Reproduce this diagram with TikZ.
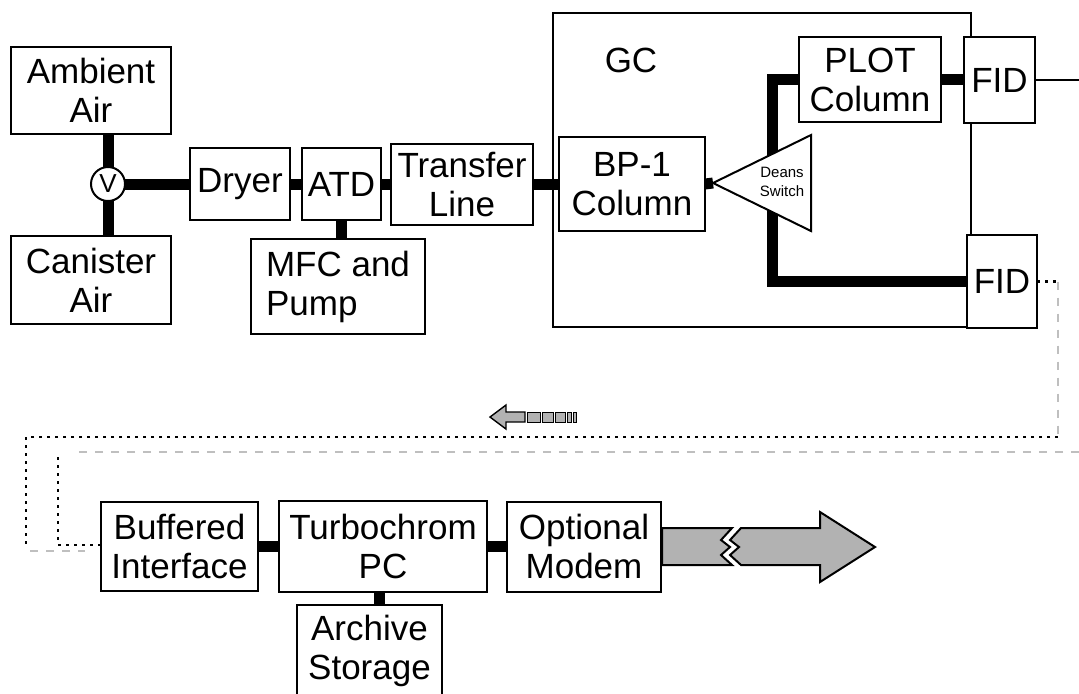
\documentclass[tikz,border=0pt]{standalone}
\usepackage{fontspec}
\setmainfont{Liberation Sans}
\usetikzlibrary{positioning}

\newcommand\boxfont{\fontsize{17.5}{19.5}\selectfont}
\newcommand\switchfont{\fontsize{7.5}{9.5}\selectfont}

\begin{document}
\begin{tikzpicture}[x=0.5pt, y=-0.5pt, font=\boxfont]
        \tikzstyle{unit_box} = [rectangle, draw, line width=1pt, fill=white, inner sep=0pt, outer sep=0pt, align=center]
        \tikzstyle{pipe_line} = [line width=5.5pt]
        \tikzstyle{thin_line} = [line width=1pt]
        \tikzstyle{cable_dot} = [black, line width=1.2pt, dash pattern=on 1.5pt off 2.5pt]
        \tikzstyle{cable_shadow} = [black!25, line width=0.7pt, dash pattern=on 4pt off 4pt]
        \tikzstyle{block_arrow} = [fill=black!30, draw=black, line width=1pt, line join=miter]

        \useasboundingbox (0,0) rectangle (1079,693);

        % GC oven
        \node[draw, line width=1pt, minimum width=209pt, minimum height=157pt, inner sep=0pt] (gc) at (762,170) {};
        \node (gc_label) at (631,60) {GC};

        % sampling train
        \node[circle, draw, line width=1pt, fill=white, minimum size=17pt, inner sep=0pt, outer sep=0pt, font=\fontsize{13}{13}\selectfont] (valve) at (108,184) {V};
        \node[unit_box, minimum width=80pt, minimum height=43.5pt] (ambient) at (91,90.5) {Ambient\\Air};
        \node[unit_box, minimum width=80pt, minimum height=44pt] (canister) at (91,280) {Canister\\Air};
        \node[unit_box, minimum width=50pt, minimum height=36pt] (dryer) at (240,184) {Dryer};
        \node[unit_box, minimum width=39.5pt, minimum height=36pt, right=6pt of dryer] (atd) {ATD};
        \node[unit_box, minimum width=87pt, minimum height=47.5pt, align=left, below=9.5pt of atd, xshift=-1.75pt] (mfc) {MFC and\\Pump};
        \node[unit_box, minimum width=71pt, minimum height=40.5pt, right=5pt of atd] (xfer) {Transfer\\Line};
        \node[unit_box, minimum width=73pt, minimum height=47pt, right=13pt of xfer] (bp) {BP-1\\Column};

        \draw[pipe_line] (valve.north) -- (valve.north |- ambient.south);
        \draw[pipe_line] (valve.south) -- (valve.south |- canister.north);
        \draw[pipe_line] (valve) -- (dryer);
        \draw[pipe_line] (dryer) -- (atd);
        \draw[pipe_line] (atd) -- (xfer);
        \draw[pipe_line] (atd.south) -- (atd.south |- mfc.north);
        \draw[pipe_line] (xfer) -- (bp);

        % columns and detectors
        \node[unit_box, minimum width=71pt, minimum height=42.5pt] (plot) at (870,79.5) {PLOT\\Column};
        \node[unit_box, minimum width=35.5pt, minimum height=43pt] (fid1) at (999.5,80) {FID};
        \node[unit_box, minimum width=35pt, minimum height=46.5pt] (fid2) at (1002,281.5) {FID};
        \coordinate (deans_tip) at (713,183);
        \coordinate (bar_mid) at (772,200);
        \coordinate (out_end) at (1079,80);

        \draw[pipe_line] (plot.west) -| (bar_mid) |- (fid2.west);
        \draw[pipe_line] (plot.east) -- (plot.east -| fid1.west);
        \draw[pipe_line] (bp.east) -- (deans_tip);
        \draw[thin_line] (fid1.east) -- (fid1.east -| out_end);

        \draw[thin_line, fill=white] (deans_tip) -- (811,135) -- (811,231) -- cycle;
        \node[font=\switchfont, align=center] (deans) at (782,182) {Deans\\Switch};

        % data system
        \draw[block_arrow] (662,528) -- (732,528) -- (721,540) -- (730,547) -- (721,555) -- (732,565) -- (662,565) -- cycle;
        \draw[block_arrow] (741,528) -- (820,528) -- (820,512) -- (875,547) -- (820,582) -- (820,565) -- (741,565) -- (730,555) -- (739,547) -- (730,540) -- cycle;

        \node[unit_box, minimum width=78.5pt, minimum height=44.5pt] (buffer) at (179.5,546.5) {Buffered\\Interface};
        \node[unit_box, minimum width=104pt, minimum height=45.5pt, right=10.5pt of buffer] (pc) {Turbochrom\\PC};
        \node[unit_box, minimum width=77pt, minimum height=45pt, right=10pt of pc] (modem) {Optional\\Modem};
        \node[unit_box, minimum width=72.5pt, minimum height=46pt] (archive) at (369.5,651) {Archive\\Storage};
        \coordinate (store_link) at (379,600);

        \draw[pipe_line] (buffer) -- (pc);
        \draw[pipe_line] (pc) -- (modem);
        \draw[pipe_line] (pc.south -| store_link) -- (archive.north -| store_link);

        % data cable
        \coordinate (cable_r) at (1058,437);
        \coordinate (cable_l) at (26,546);
        \coordinate (cable_in) at (58,457);
        \draw[cable_dot] (fid2.east) -- (fid2.east -| cable_r);
        \draw[cable_shadow] (fid2.east -| cable_r) -- (cable_r);
        \draw[cable_dot] (cable_r) -| (cable_l);
        \draw[cable_shadow] (30,551) -- (85,551);
        \draw[cable_shadow] (1079,452) -- (75,452);
        \draw[cable_dot] (cable_in) |- (buffer.west |- 0,545);

        \draw[block_arrow, line width=0.7pt] (490,417) -- (506,405) -- (506,412) -- (525,412) -- (525,422) -- (506,422) -- (506,429) -- cycle;
        \foreach \x/\w in {527/13, 542/11, 555/10, 567/4, 573/3}
            \draw[block_arrow, line width=0.5pt] (\x,412) rectangle ++(\w,10);

    \end{tikzpicture}
\end{document}
